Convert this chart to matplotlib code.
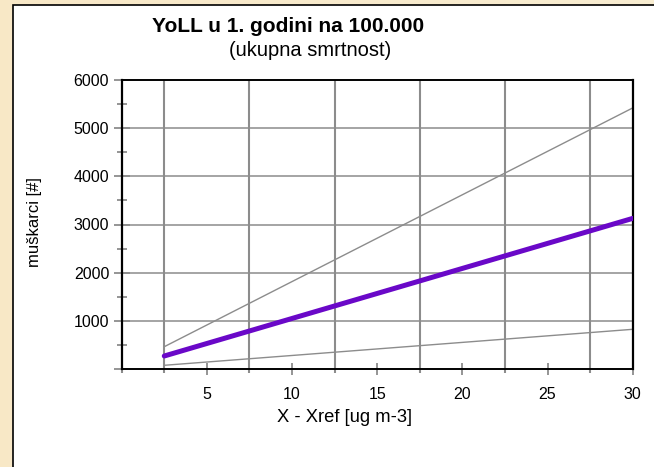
import numpy as np
import matplotlib.pyplot as plt
from matplotlib.patches import Rectangle

plt.rcParams['font.family'] = ['Liberation Sans', 'DejaVu Sans']

# Podaci (očitano sa slike)
x_vals = [2.5, 30]
gornja = [463, 5420]
srednja = [270, 3127]
donja = [77, 824]

x_labels = [5, 10, 15, 20, 25, 30]
x_grid = [0, 2.5, 7.5, 12.5, 17.5, 22.5, 27.5]
y_major = [1000, 2000, 3000, 4000, 5000, 6000]
y_minor = [500, 1500, 2500, 3500, 4500, 5500]

W, H = 654, 467
fig = plt.figure(figsize=(W / 100, H / 100), dpi=100, facecolor='#f8e7c6')

# Pozadina (bež) i bijeli panel
bg = fig.add_axes([0, 0, 1, 1], zorder=-2)
grad = np.linspace(0, 1, 256).reshape(1, -1)
bg.imshow(np.dstack([np.full((1, 256), 0.975), 0.91 + 0.02 * grad, 0.78 + 0.04 * grad]),
          aspect='auto', extent=[0, 1, 0, 1])
bg.set_xlim(0, 1)
bg.set_ylim(0, 1)
bg.axis('off')
bg.add_patch(Rectangle((12.5 / W, -0.1), 1.2, 1 - 4.5 / H + 0.1, facecolor='white',
                       edgecolor='black', linewidth=1.2))

ax = fig.add_axes([121.7 / W, 1 - 369 / H, 511 / W, 289 / H])
ax.set_facecolor('white')

siva = '#8c8c8c'
for xv in x_grid[1:]:
    ax.axvline(xv, color=siva, linewidth=1.5, zorder=1)
for yv in y_major[:-1]:
    ax.axhline(yv, color=siva, linewidth=1.1, zorder=1)

ax.plot(x_vals, gornja, color=siva, linewidth=1.0, zorder=2)
ax.plot(x_vals, donja, color=siva, linewidth=1.0, zorder=2)
ax.plot(x_vals, srednja, color='#6a08c8', linewidth=3.6, solid_capstyle='round', zorder=3)

ax.set_xlim(0, 30)
ax.set_ylim(0, 6000)

ax.set_xticks(x_labels)
ax.set_xticklabels([str(v) for v in x_labels])
ax.set_xticks(x_grid, minor=True)
ax.tick_params(axis='x', which='major', direction='inout', length=8, width=1.3,
               color=siva, labelsize=11.5, pad=9)
ax.tick_params(axis='x', which='minor', direction='out', length=3, width=1.5, color=siva)

ax.set_yticks([0] + y_major)
ax.set_yticklabels([''] + [str(v) for v in y_major])
ax.set_yticks(y_minor, minor=True)
ax.tick_params(axis='y', which='major', direction='inout', length=12, width=1.3,
               color=siva, labelsize=11.5, pad=3)
ax.tick_params(axis='y', which='minor', direction='inout', length=6.5, width=1.3, color=siva)

for s in ax.spines.values():
    s.set_color('black')
ax.spines['left'].set_linewidth(1.6)
ax.spines['top'].set_linewidth(1.4)
ax.spines['right'].set_linewidth(1.6)
ax.spines['bottom'].set_linewidth(1.4)

fig.text(288 / W, 1 - 27 / H, 'YoLL u 1. godini na 100.000', ha='center', va='center',
         fontsize=15, fontweight='bold')
fig.text(310 / W, 1 - 50 / H, '(ukupna smrtnost)', ha='center', va='center', fontsize=14.5)
fig.text(35 / W, 1 - 222 / H, 'muškarci [#]', ha='center', va='center', rotation=90,
         fontsize=12)
fig.text(345 / W, 1 - 418 / H, 'X - Xref [ug m-3]', ha='center', va='center', fontsize=13.2)

fig.savefig('out.png', dpi=100, facecolor=fig.get_facecolor())
